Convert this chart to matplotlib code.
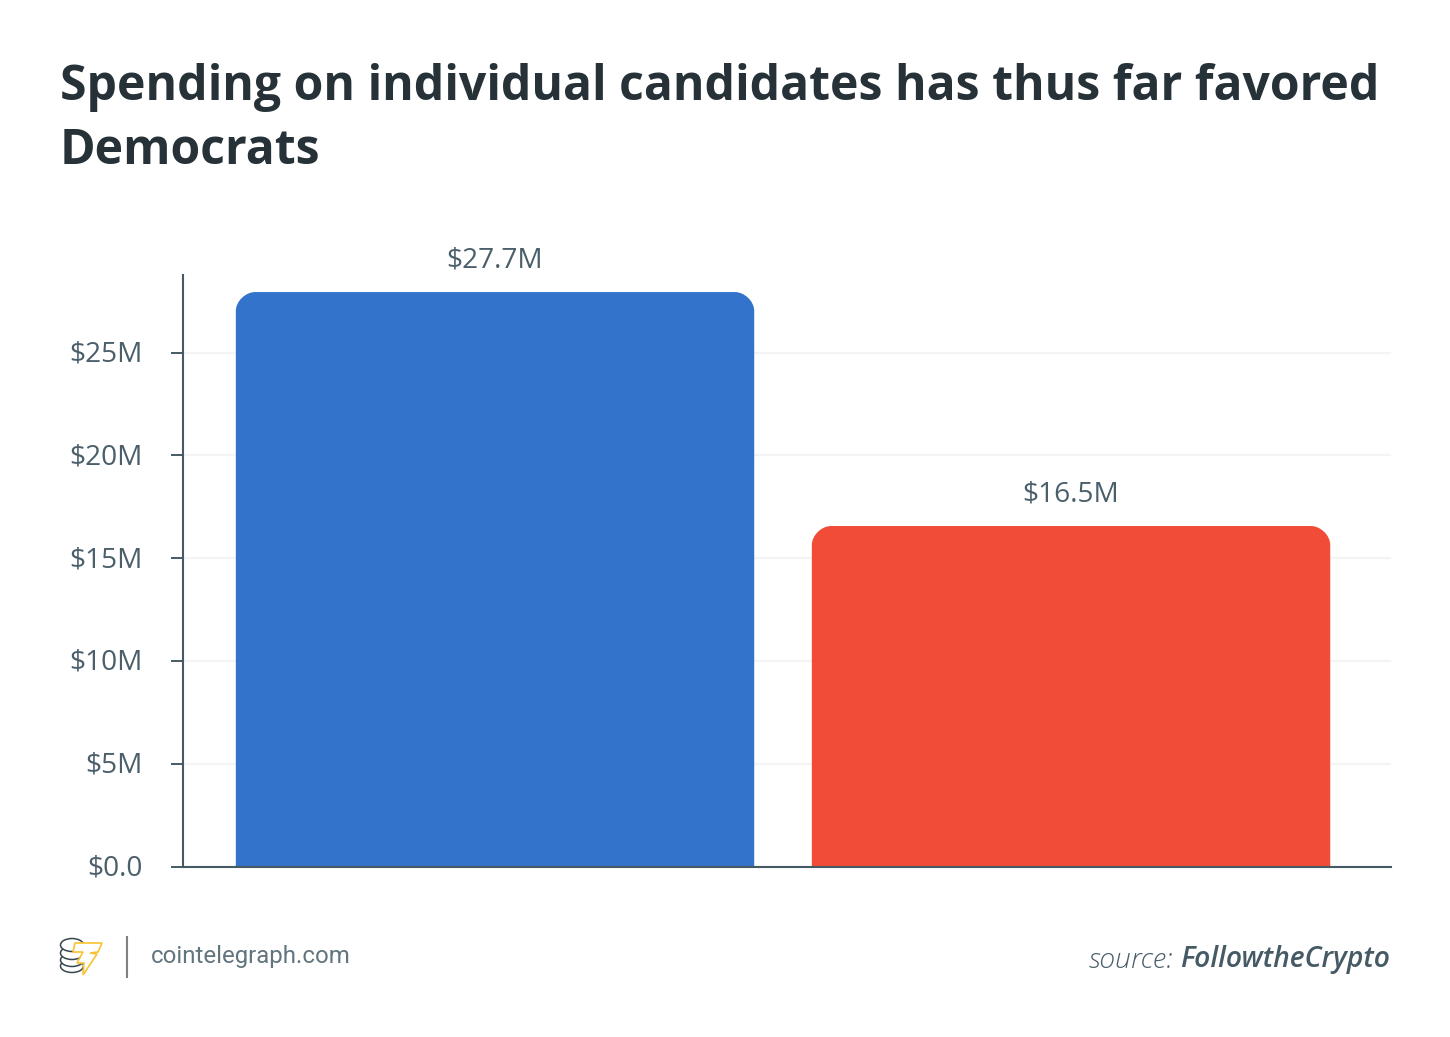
import matplotlib
matplotlib.use('Agg')
import matplotlib.pyplot as plt
from matplotlib.patches import Ellipse, PathPatch, Polygon
from matplotlib.path import Path
from matplotlib.transforms import ScaledTranslation

W, H = 1450, 1037

parties = ['Democrats', 'Republicans']
spending = [27.94, 16.56]
value_labels = ['$27.7M', '$16.5M']
bar_colors = ['#3373cc', '#f04c38']
tick_values = [0, 5, 10, 15, 20, 25]
tick_labels = ['$0.0', '$5M', '$10M', '$15M', '$20M', '$25M']

TEXT = '#4b5f6b'
AXIS = '#455a64'
FONT = 'Open Sans'
K = 0.45  # bezier handle for a round corner


def rounded_bar(ax, x, width, height, rx, ry, color):
    left, right = x - width / 2, x + width / 2
    verts = [(left, 0), (left, height - ry),
             (left, height - ry * K), (left + rx * (1 - K), height), (left + rx, height),
             (right - rx, height),
             (right - rx * (1 - K), height), (right, height - ry * K), (right, height - ry),
             (right, 0), (left, 0)]
    codes = [Path.MOVETO, Path.LINETO,
             Path.CURVE4, Path.CURVE4, Path.CURVE4,
             Path.LINETO,
             Path.CURVE4, Path.CURVE4, Path.CURVE4,
             Path.LINETO, Path.CLOSEPOLY]
    ax.add_patch(PathPatch(Path(verts, codes), facecolor=color, edgecolor='none', zorder=3))


fig = plt.figure(figsize=(W / 100, H / 100), dpi=100, facecolor='white')
ax = fig.add_axes([183 / W, 1 - 866.5 / H, (1391 - 183) / W, (866.5 - 275) / H])
ax.set_xlim(-0.5417, 1.5555)
ax.set_ylim(0, 28.77)

for i, v in enumerate(spending):
    rounded_bar(ax, i, 0.9, v, 19 / 576, 19 / 20.56, bar_colors[i])
    ax.annotate(value_labels[i], (i, v), xytext=(0, 18), textcoords='offset pixels',
                ha='center', va='bottom', fontsize=20.2, color=TEXT, family=FONT)

ax.set_yticks(tick_values)
ax.set_yticklabels(tick_labels, fontsize=20.2, color=TEXT, family=FONT)
ax.set_xticks([])
ax.tick_params(axis='y', length=8.6, width=1.4, color=AXIS, pad=20.5)
shift = ScaledTranslation(0, 1.5 / 100, fig.dpi_scale_trans)
for lab in ax.get_yticklabels():
    lab.set_transform(lab.get_transform() + shift)
ax.yaxis.grid(True, color='#f4f4f4', lw=1.6)
ax.set_axisbelow(True)
for s in ['top', 'right']:
    ax.spines[s].set_visible(False)
for s in ['left', 'bottom']:
    ax.spines[s].set_color(AXIS)
    ax.spines[s].set_linewidth(1.5)
    ax.spines[s].set_zorder(4)

fig.text(60 / W, 1 - 87 / H, 'Spending on individual candidates has thus far favored', family=FONT,
         fontweight='bold', fontsize=34.65, color='#263238', va='center', ha='left')
fig.text(60 / W, 1 - 151 / H, 'Democrats', family=FONT,
         fontweight='bold', fontsize=34.65, color='#263238', va='center', ha='left')

# footer drawn in pixel coordinates
foot = fig.add_axes([0, 0, 1, 1], facecolor='none')
foot.set_xlim(0, W)
foot.set_ylim(H, 0)
foot.axis('off')
for cy in [966, 960, 953, 945]:
    foot.add_patch(Ellipse((72, cy), 23, 13, facecolor='white', edgecolor='#37474f', lw=1.1))
bolt = [(75, 943), (102, 943), (98, 952), (90, 953), (97, 954), (83, 975), (84, 963),
        (77, 963), (83, 952), (73, 952)]
foot.add_patch(Polygon(bolt, closed=True, facecolor='white', edgecolor='#f7c330', lw=1.2, zorder=3))
foot.plot([127, 127], [937, 977], color='#808080', lw=1.5)
foot.text(151, 957, 'cointelegraph.com', family='Roboto', fontsize=17.3, color='#62757f',
          va='center', ha='left', fontweight='normal')
foot.text(1390, 960, 'FollowtheCrypto', family=FONT, fontsize=20.3, color=AXIS, style='italic',
          fontweight='semibold', va='center', ha='right')
foot.text(1173, 960, 'source:', family=FONT, fontsize=20.4, color=TEXT, style='italic',
          fontweight='light', va='center', ha='right')

fig.savefig('out.png', dpi=100)
